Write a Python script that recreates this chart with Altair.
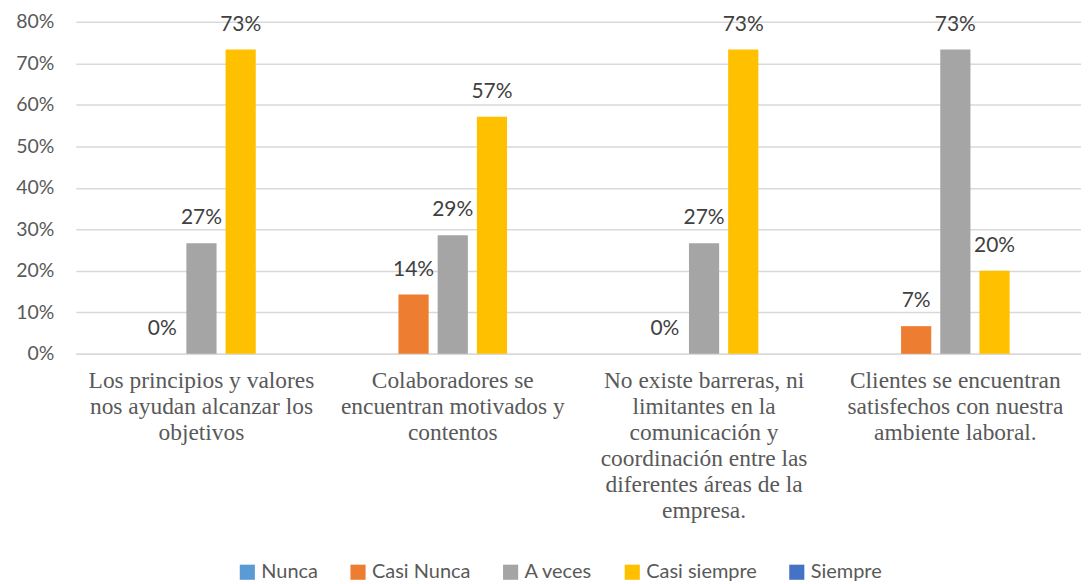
import altair as alt
import pandas as pd

categories = [
    "Los principios y valores|nos ayudan alcanzar los|objetivos",
    "Colaboradores se|encuentran motivados y|contentos",
    "No existe barreras, ni|limitantes en la|comunicación y|coordinación entre las|diferentes áreas de la|empresa.",
    "Clientes se encuentran|satisfechos con nuestra|ambiente laboral.",
]
series = ["Nunca", "Casi Nunca", "A veces", "Casi siempre", "Siempre"]
colors = ["#5B9BD5", "#ED7D31", "#A5A5A5", "#FFC000", "#4472C4"]
y_ticks = [0, 0.1, 0.2, 0.3, 0.4, 0.5, 0.6, 0.7, 0.8]

nunca = [None, None, None, None]
casi_nunca = [0.0, 0.1429, 0.0, 0.0667]
a_veces = [0.2667, 0.2857, 0.2667, 0.7333]
casi_siempre = [0.7333, 0.5714, 0.7333, 0.20]
siempre = [None, None, None, None]

rows = []
for s, vals in zip(series, [nunca, casi_nunca, a_veces, casi_siempre, siempre]):
    for c, v in zip(categories, vals):
        if v is not None:
            rows.append({"cat": c, "serie": s, "value": v})
df = pd.DataFrame(rows)

font_num = "Lato"
font_cat = "Liberation Serif"
gray = "#595959"

x_enc = alt.X("cat:N", sort=categories, title=None,
              scale=alt.Scale(paddingInner=0.22, paddingOuter=0.11),
              axis=alt.Axis(labelExpr="split(datum.label, '|')", labelAngle=0,
                            labelFont=font_cat, labelFontSize=23.5, labelColor=gray,
                            labelLineHeight=26, labelPadding=15, labelLimit=400,
                            labelBaseline="top",
                            domainColor="#d9d9d9", domainWidth=1.5, ticks=False))
xoff = alt.XOffset("serie:N", sort=series,
                   scale=alt.Scale(domain=series, paddingInner=0.23, paddingOuter=0.115))
y_enc = alt.Y("value:Q", title=None,
              scale=alt.Scale(domain=[0, 0.8], nice=False),
              axis=alt.Axis(format=".0%", values=y_ticks, labelOverlap=False,
                            labelFont=font_num, labelFontSize=19.5, labelColor=gray,
                            labelPadding=22, domain=False, ticks=False,
                            gridColor="#d9d9d9", gridWidth=1.5))
color_enc = alt.Color("serie:N", sort=series,
                      scale=alt.Scale(domain=series, range=colors),
                      legend=alt.Legend(title=None, orient="none", direction="horizontal",
                                        legendX=162, legendY=542,
                                        symbolType="square", symbolSize=230, symbolStrokeWidth=0,
                                        symbolOffset=0,
                                        labelFont=font_num, labelFontSize=20, labelColor=gray,
                                        labelOffset=4, columnPadding=30))

bars = alt.Chart(df).mark_bar().encode(x=x_enc, xOffset=xoff, y=y_enc, color=color_enc)
labels = alt.Chart(df).mark_text(dy=-25, font=font_num, fontSize=21, color="#404040").encode(
    x=x_enc, xOffset=xoff, y=y_enc, text=alt.Text("value:Q", format=".0%"))

chart = (bars + labels).properties(
    width=1008, height=333,
    autosize=alt.AutoSizeParams(type="none"),
    padding={"left": 68, "top": 13, "right": 0, "bottom": 228},
).configure_view(stroke=None)
chart.save("out.html", embed_options={"renderer": "svg", "actions": False})
